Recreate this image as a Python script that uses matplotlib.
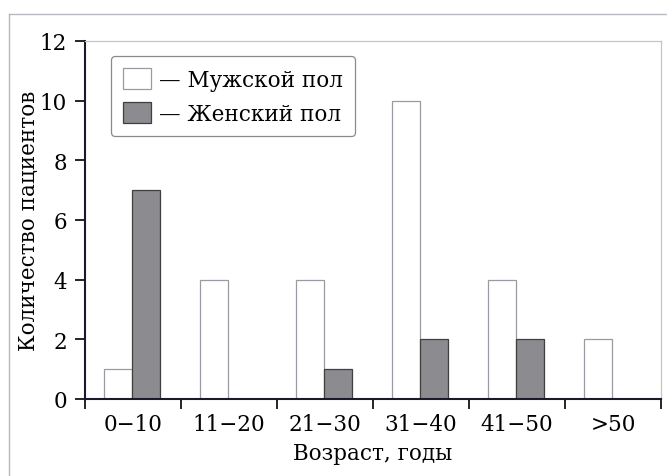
import matplotlib
matplotlib.use("Agg")
import matplotlib.pyplot as plt
from matplotlib.lines import Line2D
import numpy as np

# данные с графика
groups = ["0\u221210", "11\u221220", "21\u221230", "31\u221240", "41\u221250", ">50"]
male = [1, 4, 4, 10, 4, 2]
female = [7, 0, 1, 2, 2, 0]

plt.rcParams['font.family'] = ['DejaVu Serif']
fs = 15.5

fig = plt.figure(figsize=(6.67, 4.77), dpi=100)
ax = fig.add_axes([85/667, 1 - 400/477, (661-85)/667, (400-42)/477])

x = np.arange(len(groups))
w = 0.29
ax.bar(x + 0.49, male, width=-w, align='edge', color='white',
       edgecolor='#9a9aa2', linewidth=0.9, label="\u2014 Мужской пол")
ax.bar(x + 0.49, female, width=w, align='edge', color='#8b8b90',
       edgecolor='#404040', linewidth=0.9, label="\u2014 Женский пол")

ax.set_xlim(0, 6)
ax.set_ylim(0, 12)
ax.set_yticks(range(0, 13, 2))
ax.set_xticks(range(0, 7))
ax.set_xticklabels([])
ax.set_xticks(x + 0.5, minor=True)
ax.set_xticklabels(groups, minor=True)
ax.tick_params(axis='x', which='minor', length=0, pad=10, labelsize=fs)
ax.tick_params(axis='x', which='major', length=7, width=1.2, direction='out')
ax.tick_params(axis='y', length=7, width=1.2, labelsize=fs, pad=6)

for s in ['top', 'right']:
    ax.spines[s].set_color('#c4c4cc')
    ax.spines[s].set_linewidth(0.9)
for s in ['left', 'bottom']:
    ax.spines[s].set_linewidth(1.5)
    ax.spines[s].set_color('#1a1a2a')

ax.set_xlabel("Возраст, годы", fontsize=fs, labelpad=5)
ax.set_ylabel("Количество пациентов", fontsize=fs, labelpad=0)

leg = ax.legend(loc='upper left', bbox_to_anchor=(0.045, 0.958), borderaxespad=0,
                fontsize=fs, frameon=True, fancybox=True, edgecolor='#8a8a8a',
                framealpha=1, handlelength=1.3, handleheight=1.15,
                handletextpad=0.4, labelspacing=0.5, borderpad=0.55)
leg.get_frame().set_linewidth(0.9)

# рамка скана
fig.add_artist(Line2D([9/667, 9/667], [0, 1 - 15/477], color='#b8b8c0', lw=1.0))
fig.add_artist(Line2D([9/667, 1], [1 - 15/477, 1 - 15/477], color='#b8b8c0', lw=1.0))

fig.savefig("out.png", dpi=100)
